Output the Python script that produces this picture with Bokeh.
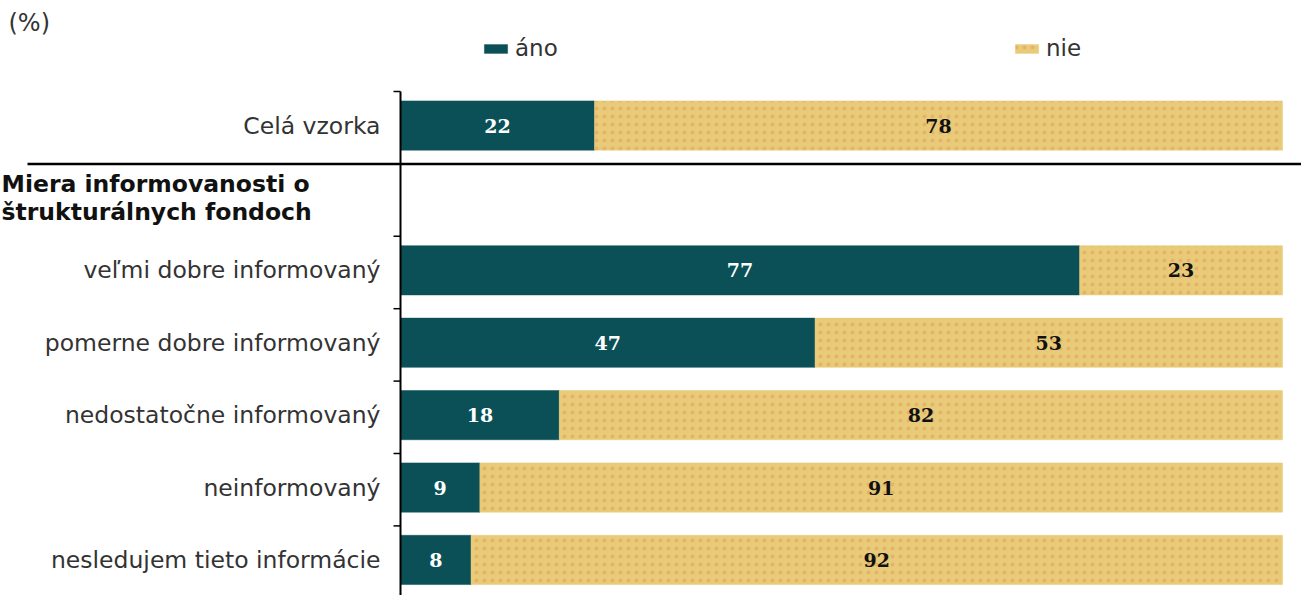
from bokeh.plotting import figure
from bokeh.models import ColumnDataSource, Range1d, Label, Legend, LegendItem
from bokeh.core.properties import value
from bokeh.embed import file_html
from bokeh.resources import INLINE

# ---- data ----
rows = ["Celá vzorka", "", "veľmi dobre informovaný", "pomerne dobre informovaný",
        "nedostatočne informovaný", "neinformovaný", "nesledujem tieto informácie"]
categories = ["Celá vzorka", "veľmi dobre informovaný", "pomerne dobre informovaný",
              "nedostatočne informovaný", "neinformovaný", "nesledujem tieto informácie"]
ano = [22, 77, 47, 18, 9, 8]
nie = [78, 23, 53, 82, 91, 92]
heading = ["Miera informovanosti o", "štrukturálnych fondoch"]
series_names = ["áno", "nie"]
unit_label = "(%)"

TEAL = "#0b5057"
TAN = "#e8cb78"
FONT = "DejaVu Sans"
NUMFONT = "DejaVu Serif"

W, H = 1301, 595
X0_PX, X100_PX = 400, 1282      # pixel position of 0 % and 100 %
TOP_PX, SLOT_PX = 91, 72.4      # top of first slot, slot height
PX_PER_UNIT = (X100_PX - X0_PX) / 100.0

ypos = [rows.index(c) + 0.47 for c in categories]
src = ColumnDataSource(dict(
    y=ypos,
    ano=ano,
    total=[a + n for a, n in zip(ano, nie)],
    ano_mid=[a / 2 for a in ano],
    nie_mid=[a + n / 2 for a, n in zip(ano, nie)],
    ano_lbl=[str(a) for a in ano],
    nie_lbl=[str(n) for n in nie],
))

p = figure(width=W, height=H,
           x_range=Range1d(-X0_PX / PX_PER_UNIT, (W - X0_PX) / PX_PER_UNIT),
           y_range=Range1d((H - TOP_PX) / SLOT_PX, -TOP_PX / SLOT_PX),
           x_axis_location=None, y_axis_location=None,
           output_backend="svg", toolbar_location=None,
           min_border=0)
p.outline_line_color = None
p.grid.visible = False

r1 = p.hbar(y="y", left=0, right="ano", height=0.68, source=src,
            fill_color=TEAL, line_color=TEAL, line_width=0.5)
r2 = p.hbar(y="y", left="ano", right="total", height=0.68, source=src,
            fill_color=TAN, line_color=TAN, line_width=0.5,
            hatch_pattern="dot", hatch_color="#e59a55", hatch_scale=8,
            hatch_weight=1.2, hatch_alpha=0.5)

p.text(x="ano_mid", y="y", text="ano_lbl", source=src, text_align="center",
       text_baseline="middle", text_font=value(NUMFONT), text_font_style="bold",
       text_font_size="19px", text_color="white")
p.text(x="nie_mid", y="y", text="nie_lbl", source=src, text_align="center",
       text_baseline="middle", text_font=value(NUMFONT), text_font_style="bold",
       text_font_size="19px", text_color="#111111")

# ---- category axis drawn by hand: line, boundary ticks, labels ----
n = len(rows)
p.segment(x0=[0], y0=[0], x1=[0], y1=[n], line_color="black", line_width=2)
tick_len = 7 / PX_PER_UNIT
p.segment(x0=[-tick_len] * (n + 1), y0=list(range(n + 1)),
          x1=[0] * (n + 1), y1=list(range(n + 1)),
          line_color="black", line_width=1.5)
p.text(x=[0] * n, y=[i + 0.47 for i in range(n)], text=rows, x_offset=-20,
       text_align="right", text_baseline="middle", text_font=value(FONT),
       text_font_size="23.5px", text_color="#333333")

# separator line under "Celá vzorka"
p.segment(x0=[-373 / PX_PER_UNIT], y0=[1], x1=[(W - X0_PX) / PX_PER_UNIT], y1=[1],
          line_color="black", line_width=2.5)

# heading
p.add_layout(Label(x=0, y=1.5, x_offset=-399, y_offset=16, text=heading[0],
                   text_font=FONT, text_font_style="bold", text_font_size="23.5px",
                   text_align="left", text_baseline="middle", text_color="#111111"))
p.add_layout(Label(x=0, y=1.5, x_offset=-399, y_offset=-12, text=heading[1],
                   text_font=FONT, text_font_style="bold", text_font_size="23.5px",
                   text_align="left", text_baseline="middle", text_color="#111111"))
# unit
p.add_layout(Label(x=0, y=0, x_offset=-392, y_offset=69, text=unit_label,
                   text_font=FONT, text_font_size="24px", text_align="left",
                   text_baseline="middle", text_color="#333333"))

legend = Legend(items=[LegendItem(label=series_names[0], renderers=[r1]),
                       LegendItem(label=series_names[1], renderers=[r2])],
                orientation="horizontal", location=(481, 534),
                glyph_width=29, glyph_height=11, label_width=497, spacing=0,
                label_standoff=5, padding=0, margin=0,
                border_line_alpha=0, background_fill_alpha=0,
                label_text_font=FONT, label_text_font_size="23px",
                label_text_color="#333333")
p.add_layout(legend)

open("out.html", "w").write(file_html(p, INLINE))
